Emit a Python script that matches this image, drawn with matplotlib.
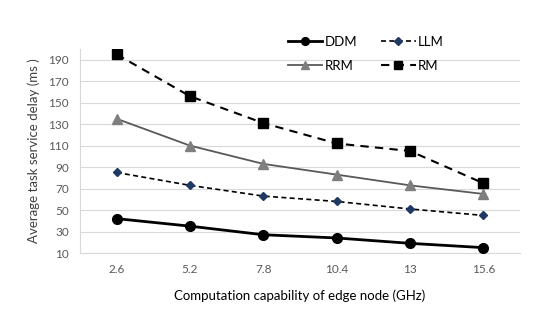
import matplotlib.pyplot as plt
import numpy as np

plt.rcParams['font.family'] = ['Lato', 'DejaVu Sans']

capability = ['2.6', '5.2', '7.8', '10.4', '13', '15.6']
ddm = [42, 35, 27, 24, 19, 15]
llm = [85, 73, 63, 58, 51, 45]
rrm = [135, 110, 93, 83, 73, 65]
rm = [195, 156, 131, 112, 105, 75]

y_ticks = list(range(10, 200, 20))

fig = plt.figure(figsize=(5.5, 3.28), dpi=100)
ax = fig.add_axes([80 / 550, 75 / 328, 440 / 550, 204 / 328])

x = np.arange(len(capability))
l_ddm, = ax.plot(x, ddm, color='black', linewidth=2, marker='o', markersize=7, label='DDM', zorder=3)
l_llm, = ax.plot(x, llm, color='black', linewidth=1.2, linestyle=(0, (3, 2)), marker='D',
                 markersize=4.5, markerfacecolor='#203864', markeredgecolor='#203864', label='LLM', zorder=3)
l_rrm, = ax.plot(x, rrm, color='#595959', linewidth=1.3, marker='^', markersize=7,
                 markerfacecolor='#7f7f7f', markeredgecolor='#7f7f7f', label='RRM', zorder=3)
l_rm, = ax.plot(x, rm, color='black', linewidth=1.5, linestyle=(0, (4, 3)), marker='s',
                markersize=7, label='RM', zorder=3)

ax.set_xlim(-0.5, len(capability) - 0.5)
ax.set_ylim(10, 200)
ax.set_xticks(x)
ax.set_xticklabels(capability)
ax.set_yticks(y_ticks)
ax.tick_params(axis='both', length=0, labelsize=8.5, colors='#595959', pad=8)
ax.grid(axis='y', color='#d9d9d9', linewidth=0.8, zorder=0)
for side in ['top', 'right']:
    ax.spines[side].set_visible(False)
ax.spines['left'].set_color('#d9d9d9')
ax.spines['bottom'].set_color('#d9d9d9')

ax.set_xlabel('Computation capability of edge node (GHz)', fontsize=9.5, color='black', labelpad=10)
ax.set_ylabel('Average task service delay (ms )', fontsize=9.5, color='#404040', labelpad=6)

# column-wise fill: DDM/RRM in the first column, LLM/RM in the second
fig.legend([l_ddm, l_rrm, l_llm, l_rm], ['DDM', 'RRM', 'LLM', 'RM'],
           loc='center', bbox_to_anchor=(366 / 550, 1 - 54 / 328), ncol=2, frameon=False,
           fontsize=9.5, handlelength=2.6, columnspacing=1.8, labelspacing=0.9,
           handletextpad=0.2, markerscale=0.8)

plt.savefig('out.png', dpi=100)
